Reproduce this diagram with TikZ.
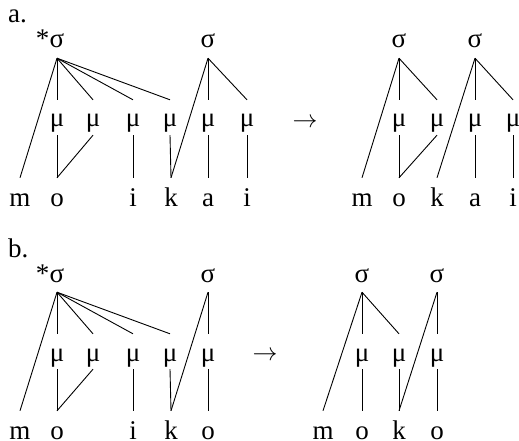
\documentclass[tikz,border=0pt]{standalone}
\usepackage{fontspec}
\setmainfont{Liberation Serif}
\begin{document}
\begin{tikzpicture}[x=1pt,y=-1pt,
  every node/.style={inner sep=0pt,font=\fontsize{27}{30}\selectfont},
  sig/.style={anchor=base,text height=12pt,text depth=10pt},
  mora/.style={anchor=base,text height=27pt,text depth=8pt},
  seg/.style={anchor=base,text height=28pt,text depth=0pt},
  lbl/.style={anchor=base west},
  ln/.style={line width=0.9pt}]
\useasboundingbox (0,0) rectangle (519,441);
% ---------- panel a ----------
\node[lbl] (la) at (8,23) {a.};
% left
\node[sig] (as1) at (57,48) {σ};
\node[anchor=base east] (aast) at (as1.base west) {*};
\node[sig] (as2) at (208,48) {σ};
\foreach \n/\x in {1/57,2/93,3/133,4/170,5/208,6/247}
  \node[mora] (amu\n) at (\x,127) {μ};
\node[seg] (am) at (20,206) {m};
\node[seg] (ao) at (57,206) {o};
\node[seg] (ai1) at (133,206) {i};
\node[seg] (ak) at (171,206) {k};
\node[seg] (aa) at (208,206) {a};
\node[seg] (ai2) at (247,206) {i};
\draw[ln] (as1.south) -- (am.north);
\foreach \n in {1,2,3,4} \draw[ln] (as1.south) -- (amu\n.north);
\draw[ln] (as2.south) -- (ak.north);
\draw[ln] (as2.south) -- (amu5.north);
\draw[ln] (as2.south) -- (amu6.north);
\draw[ln] (amu1.south) -- (ao.north);
\draw[ln] (amu2.south) -- (ao.north);
\draw[ln] (amu3.south) -- (ai1.north);
\draw[ln] (amu4.south) -- (ak.north);
\draw[ln] (amu5.south) -- (aa.north);
\draw[ln] (amu6.south) -- (ai2.north);
\node (aarr) at (305,123) {$\rightarrow$};
% right
\node[sig] (ar1) at (399,48) {σ};
\node[sig] (ar2) at (475,48) {σ};
\foreach \n/\x in {1/399,2/437,3/475,4/513}
  \node[mora] (armu\n) at (\x,127) {μ};
\node[seg] (arm) at (362,206) {m};
\node[seg] (aro) at (399,206) {o};
\node[seg] (ark) at (437,206) {k};
\node[seg] (ara) at (475,206) {a};
\node[seg] (ari) at (513,206) {i};
\draw[ln] (ar1.south) -- (arm.north);
\draw[ln] (ar1.south) -- (armu1.north);
\draw[ln] (ar1.south) -- (armu2.north);
\draw[ln] (armu1.south) -- (aro.north);
\draw[ln] (armu2.south) -- (aro.north);
\draw[ln] (ar2.south) -- (ark.north);
\draw[ln] (ar2.south) -- (armu3.north);
\draw[ln] (ar2.south) -- (armu4.north);
\draw[ln] (armu3.south) -- (ara.north);
\draw[ln] (armu4.south) -- (ari.north);
% ---------- panel b ----------
\node[lbl] (lb) at (8,257) {b.};
\node[sig] (bs1) at (57,282) {σ};
\node[anchor=base east] (bast) at (bs1.base west) {*};
\node[sig] (bs2) at (208,282) {σ};
\foreach \n/\x in {1/57,2/93,3/133,4/170,5/208}
  \node[mora] (bmu\n) at (\x,361) {μ};
\node[seg] (bm) at (20,439) {m};
\node[seg] (bo1) at (57,439) {o};
\node[seg] (bi) at (133,439) {i};
\node[seg] (bk) at (171,439) {k};
\node[seg] (bo2) at (208,439) {o};
\draw[ln] (bs1.south) -- (bm.north);
\foreach \n in {1,2,3,4} \draw[ln] (bs1.south) -- (bmu\n.north);
\draw[ln] (bs2.south) -- (bk.north);
\draw[ln] (bs2.south) -- (bmu5.north);
\draw[ln] (bmu1.south) -- (bo1.north);
\draw[ln] (bmu2.south) -- (bo1.north);
\draw[ln] (bmu3.south) -- (bi.north);
\draw[ln] (bmu4.south) -- (bk.north);
\draw[ln] (bmu5.south) -- (bo2.north);
\node (barr) at (265,356) {$\rightarrow$};
% right
\node[sig] (br1) at (362,282) {σ};
\node[sig] (br2) at (437,282) {σ};
\foreach \n/\x in {1/362,2/399,3/437}
  \node[mora] (brmu\n) at (\x,361) {μ};
\node[seg] (brm) at (323,439) {m};
\node[seg] (bro1) at (362,439) {o};
\node[seg] (brk) at (399,439) {k};
\node[seg] (bro2) at (437,439) {o};
\draw[ln] (br1.south) -- (brm.north);
\draw[ln] (br1.south) -- (brmu1.north);
\draw[ln] (br1.south) -- (brmu2.north);
\draw[ln] (brmu1.south) -- (bro1.north);
\draw[ln] (brmu2.south) -- (brk.north);
\draw[ln] (br2.south) -- (brk.north);
\draw[ln] (br2.south) -- (brmu3.north);
\draw[ln] (brmu3.south) -- (bro2.north);
\end{tikzpicture}
\end{document}
